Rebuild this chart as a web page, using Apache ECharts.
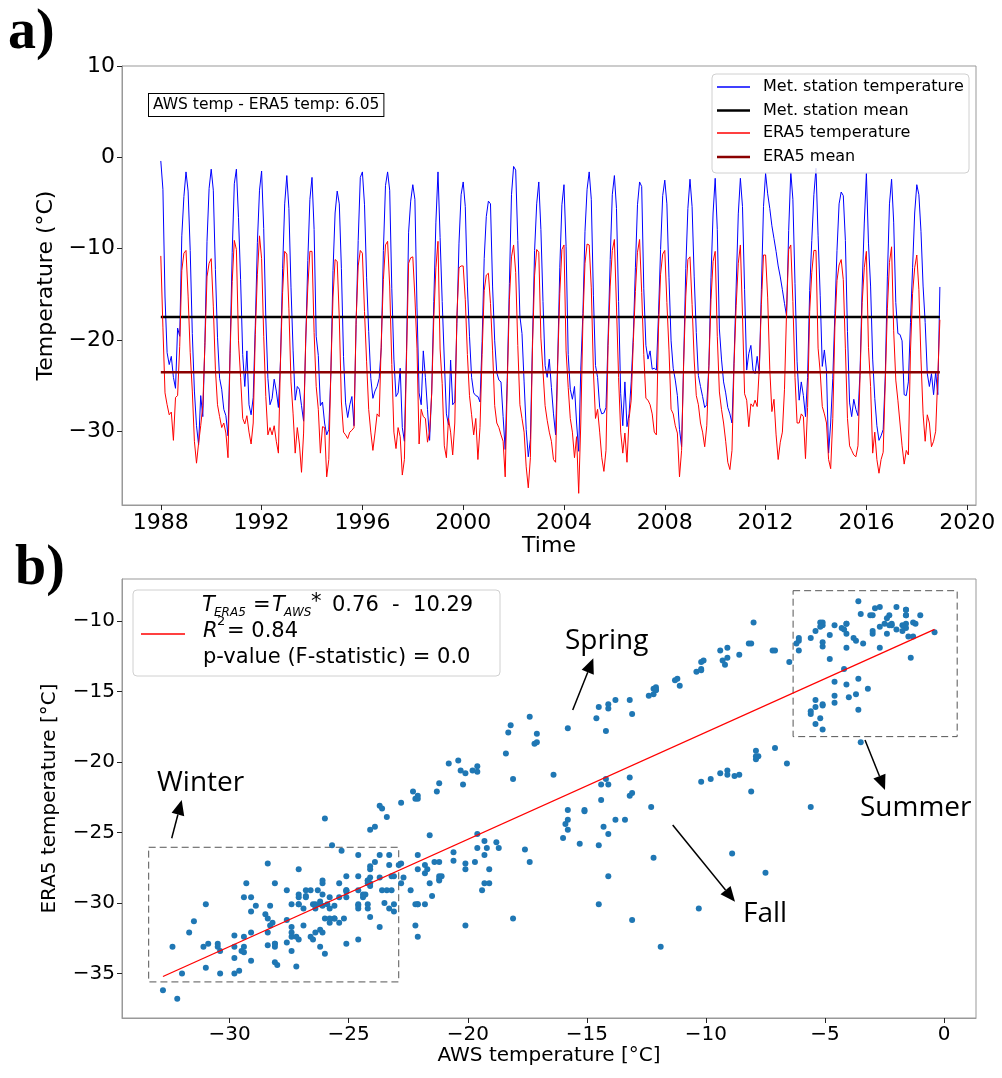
<!DOCTYPE html>
<html lang="en">
<head>
    <meta charset="UTF-8">
    <title>AWS vs ERA5 temperature</title>
    <style>
        html, body { margin: 0; padding: 0; background: #fff; }
        #main { width: 1002px; height: 1078px; }
    </style>
</head>
<body>
<div id="main"></div>
<script src="https://cdn.jsdelivr.net/npm/echarts@6/dist/echarts.min.js"></script>
<script>
    const myChart = echarts.init(document.getElementById('main'));

    // monthly means, Jan..Dec, one row per year, from 1988
    const startYear = 1988;
    const aws = [
        -0.4, -3.5, -15.3, -21.4, -22.7, -21.8, -24.1, -25.3, -18.7, -19.6, -8.6, -4.3,    // 1988
        -1.6, -3.7, -10.2, -19.3, -25.6, -29.4, -31.5, -26.1, -28.4, -20.3, -9.2, -3.4,    // 1989
        -1.3, -3.6, -12.3, -19.7, -24.2, -25.4, -27.6, -28.3, -30.5, -21.2, -10.4, -2.9,   // 1990
        -1.3, -6.6, -13.4, -21.6, -25.1, -21.2, -27.1, -28.2, -26.3, -18.4, -9.3, -3.6,    // 1991
        -1.5, -7.8, -17.6, -24.2, -27.1, -26.4, -24.3, -25.6, -27.4, -22.3, -12.2, -5.1,   // 1992
        -2.0, -5.6, -14.3, -21.2, -26.6, -25.1, -25.4, -27.2, -28.9, -20.4, -11.3, -4.6,   // 1993
        -2.2, -7.9, -19.6, -21.7, -27.2, -26.8, -29.1, -30.4, -29.8, -23.6, -12.4, -6.1,   // 1994
        -3.7, -5.1, -12.2, -21.8, -26.9, -28.5, -27.1, -26.2, -29.4, -18.3, -9.1, -2.2,    // 1995
        -1.6, -5.2, -13.2, -19.1, -24.2, -26.4, -25.6, -25.1, -24.2, -20.8, -10.2, -3.1,   // 1996
        -1.6, -3.6, -14.4, -22.1, -26.2, -25.8, -23.1, -29.6, -31.1, -21.3, -8.2, -4.8,    // 1997
        -3.0, -4.6, -16.4, -25.8, -27.1, -21.2, -24.1, -27.6, -31.0, -25.7, -15.8, -7.1,   // 1998
        -1.6, -8.8, -15.8, -22.2, -28.1, -29.3, -22.2, -27.1, -26.8, -18.2, -9.4, -4.1,    // 1999
        -2.7, -5.4, -14.1, -19.6, -24.1, -25.8, -26.1, -26.2, -26.8, -20.2, -11.1, -6.5,   // 2000
        -4.8, -5.1, -14.2, -20.1, -23.6, -24.4, -24.6, -28.4, -32.0, -24.1, -13.8, -4.1,   // 2001
        -1.0, -1.4, -9.1, -17.4, -19.3, -24.6, -29.8, -32.8, -30.9, -20.1, -10.2, -5.1,    // 2002
        -2.7, -7.9, -15.8, -22.8, -24.1, -22.1, -25.2, -28.1, -30.4, -22.2, -12.1, -5.2,   // 2003
        -3.0, -9.8, -21.6, -25.4, -26.5, -25.1, -29.1, -32.2, -23.2, -17.1, -8.1, -3.5,    // 2004
        -1.6, -4.6, -15.1, -22.8, -24.1, -27.4, -28.1, -28.0, -27.4, -19.8, -11.2, -4.1,   // 2005
        -2.0, -5.6, -15.8, -25.9, -29.4, -24.6, -29.5, -28.1, -24.6, -19.6, -12.1, -5.2,   // 2006
        -2.7, -3.2, -14.4, -20.6, -22.1, -21.2, -23.2, -23.1, -23.3, -17.2, -10.1, -4.2,   // 2007
        -2.5, -5.1, -13.2, -20.1, -23.1, -24.4, -26.1, -29.8, -31.7, -22.1, -12.2, -5.6,   // 2008
        -2.4, -5.4, -13.1, -19.2, -23.9, -25.1, -26.2, -27.4, -27.1, -22.8, -13.2, -6.1,   // 2009
        -2.3, -7.9, -18.8, -22.1, -24.6, -25.8, -27.4, -28.1, -29.1, -22.1, -14.1, -6.2,   // 2010
        -2.3, -5.4, -14.5, -23.3, -21.5, -20.6, -23.3, -23.7, -21.8, -23.7, -14.5, -5.4,   // 2011
        -1.75, -4.0, -5.6, -7.5, -8.9, -10.3, -11.9, -13.1, -14.5, -16.0, -17.4, -8.0,     // 2012
        -1.6, -4.6, -13.8, -22.4, -26.6, -24.6, -26.1, -28.4, -24.1, -14.6, -9.1, -4.1,    // 2013
        -1.2, -8.6, -15.1, -22.9, -21.1, -23.4, -32.4, -29.1, -24.2, -17.1, -10.2, -5.1,   // 2014
        -3.8, -4.2, -9.1, -19.1, -26.9, -28.4, -26.5, -27.6, -28.3, -23.4, -14.1, -7.2,    // 2015
        -1.75, -9.4, -14.1, -22.1, -26.4, -29.4, -31.0, -30.5, -29.8, -23.9, -13.1, -5.1,  // 2016
        -2.4, -7.1, -15.9, -19.3, -19.4, -20.1, -26.0, -26.1, -24.6, -18.1, -12.1, -6.1,   // 2017
        -3.0, -4.1, -8.1, -14.1, -18.1, -23.7, -25.1, -23.7, -26.0, -23.5, -26.0, -14.2    // 2018
    ];
    const era5 = [
        -10.8, -18.6, -25.8, -27.1, -28.2, -27.9, -31.0, -26.3, -26.1, -20.7, -12.4, -10.5,  // 1988
        -10.2, -15.2, -21.4, -25.6, -31.1, -33.5, -31.3, -29.4, -27.2, -20.6, -13.1, -11.6,  // 1989
        -11.1, -16.3, -23.2, -27.1, -28.4, -29.6, -29.1, -30.2, -32.9, -21.5, -13.6, -9.1,   // 1990
        -10.1, -20.1, -24.1, -28.6, -29.2, -28.3, -30.1, -31.4, -29.1, -19.4, -12.8, -8.6,   // 1991
        -11.1, -19.6, -26.2, -30.4, -29.6, -30.4, -29.4, -31.1, -32.4, -22.1, -14.8, -10.3,  // 1992
        -10.6, -16.6, -24.6, -28.1, -32.4, -29.6, -31.4, -34.5, -30.2, -19.9, -14.2, -10.3,  // 1993
        -10.3, -19.2, -25.1, -27.6, -32.4, -29.5, -29.6, -35.0, -33.1, -23.3, -15.3, -11.2,  // 1994
        -11.4, -17.7, -26.8, -30.1, -30.4, -30.8, -30.1, -29.9, -29.6, -17.9, -11.9, -10.2,  // 1995
        -10.5, -16.9, -22.4, -27.6, -30.1, -32.1, -30.2, -28.1, -28.4, -20.1, -13.4, -9.6,   // 1996
        -9.2, -14.1, -22.7, -30.1, -31.9, -29.6, -30.6, -34.8, -33.1, -22.1, -11.6, -11.0,   // 1997
        -10.9, -15.3, -20.9, -31.4, -27.6, -28.4, -28.6, -31.2, -30.1, -25.9, -17.6, -12.1,  // 1998
        -9.2, -21.0, -24.8, -31.6, -32.9, -28.6, -30.1, -32.6, -29.1, -17.4, -12.1, -11.9,   // 1999
        -11.9, -15.6, -21.6, -26.1, -28.2, -30.4, -28.6, -33.1, -29.6, -21.6, -14.6, -12.9,  // 2000
        -12.7, -16.0, -21.2, -27.2, -29.1, -29.6, -30.4, -31.1, -35.0, -24.8, -15.6, -10.9,  // 2001
        -9.6, -12.6, -20.6, -27.1, -28.6, -30.1, -33.9, -36.2, -32.9, -20.8, -12.9, -10.1,   // 2002
        -10.4, -19.8, -23.4, -27.2, -28.8, -30.1, -31.1, -33.1, -33.4, -22.6, -14.9, -10.1,  // 2003
        -9.6, -21.2, -25.2, -28.6, -30.1, -32.9, -30.6, -36.8, -29.1, -18.0, -11.6, -9.5,    // 2004
        -9.6, -14.3, -23.4, -28.6, -27.6, -30.1, -32.9, -34.4, -32.1, -20.6, -14.1, -10.2,   // 2005
        -9.0, -16.4, -24.1, -30.1, -32.4, -30.2, -33.4, -28.6, -26.6, -20.3, -14.7, -10.4,   // 2006
        -9.0, -14.8, -21.6, -26.4, -26.6, -27.1, -28.1, -30.1, -30.4, -18.7, -12.8, -10.6,   // 2007
        -10.2, -15.9, -21.1, -27.6, -28.1, -29.4, -30.2, -35.0, -32.1, -22.4, -15.2, -11.2,  // 2008
        -10.9, -16.1, -22.2, -26.1, -27.1, -29.1, -30.1, -31.7, -29.4, -22.9, -15.6, -11.4,  // 2009
        -10.3, -19.6, -25.7, -27.6, -29.1, -31.1, -33.4, -34.2, -32.1, -22.6, -16.2, -11.6,  // 2010
        -9.6, -17.3, -25.9, -26.6, -29.5, -27.0, -27.3, -26.6, -27.3, -23.1, -16.1, -10.7,   // 2011
        -10.7, -15.4, -23.2, -27.85, -26.5, -30.4, -33.1, -31.2, -30.1, -25.4, -16.8, -10.1, // 2012
        -9.6, -15.8, -24.1, -29.1, -29.1, -28.1, -28.4, -33.0, -27.4, -16.9, -12.6, -10.2,   // 2013
        -10.2, -20.9, -23.5, -27.3, -28.1, -29.1, -33.1, -34.1, -28.6, -18.6, -13.5, -11.8,  // 2014
        -11.2, -13.4, -20.9, -28.6, -31.6, -32.1, -32.6, -32.8, -31.6, -23.9, -15.9, -12.1,  // 2015
        -10.3, -20.8, -25.1, -32.4, -30.1, -33.1, -34.6, -33.1, -32.3, -24.6, -16.6, -11.5,  // 2016
        -9.8, -19.0, -24.4, -26.6, -29.1, -31.6, -33.6, -32.1, -32.6, -21.2, -14.9, -12.1,   // 2017
        -10.7, -14.5, -22.1, -28.1, -31.1, -28.2, -29.1, -31.7, -31.1, -30.0, -24.0, -17.8   // 2018
    ];
    const awsMean = -17.5;
    const era5Mean = -23.55;
    const fitSlope = 0.76;
    const fitIntercept = -10.29;

    // tick labels
    const yearTicks = [1988, 1992, 1996, 2000, 2004, 2008, 2012, 2016, 2020];
    const tempTicks = [-30, -20, -10, 0, 10];
    const awsTicks = [-30, -25, -20, -15, -10, -5, 0];
    const era5Ticks = [-35, -30, -25, -20, -15, -10];

    // dashed season boxes, [AWS, ERA5] corners
    const winterBox = [[-33.4, -26.05], [-22.9, -35.6]];
    const summerBox = [[-6.34, -7.85], [0.55, -18.2]];

    // build series data
    const months = aws.map((v, i) => startYear + i / 12);
    const awsLine = aws.map((v, i) => [months[i], v]);
    const era5Line = era5.map((v, i) => [months[i], v]);
    const tFirst = months[0], tLast = months[months.length - 1];
    const pairs = aws.map((v, i) => [v, era5[i]]);
    const awsMin = Math.min(...aws), awsMax = Math.max(...aws);
    const fitLine = [[awsMin, awsMin * fitSlope + fitIntercept], [awsMax, awsMax * fitSlope + fitIntercept]];

    const FONT = 'DejaVu Sans';

    function arrow(x1, y1, x2, y2) {
        const dx = x2 - x1, dy = y2 - y1, L = Math.hypot(dx, dy);
        const ux = dx / L, uy = dy / L, hl = 15, hw = 6.5;
        const bx = x2 - ux * hl, by = y2 - uy * hl;
        return [
            {type: 'line', z: 50, shape: {x1, y1, x2: bx, y2: by}, style: {stroke: '#000', lineWidth: 1.5}},
            {type: 'polygon', z: 50, shape: {points: [[x2, y2], [bx - uy * hw, by + ux * hw], [bx + uy * hw, by - ux * hw]]},
                style: {fill: '#000'}}
        ];
    }
    function label(text, x, y, size, font) {
        return {type: 'text', z: 60, x, y,
            style: {text, font: font || (size + 'px ' + FONT), fill: '#000', textVerticalAlign: 'middle'}};
    }

    function axisCommon(ticks, size) {
        return {
            axisLine: {show: true, onZero: false, lineStyle: {color: '#999', width: 1}},
            axisTick: {show: true, customValues: ticks, length: 5, lineStyle: {color: '#222'}},
            axisLabel: {customValues: ticks, fontSize: size, fontFamily: FONT, color: '#000', margin: 7,
                formatter: v => String(v).replace('-', '\u2212')},
            splitLine: {show: false},
            nameLocation: 'middle',
            nameTextStyle: {fontSize: size, fontFamily: FONT, color: '#000'}
        };
    }

    // legend of panel a
    const legendA = [
        {type: 'rect', z: 55, shape: {x: 712, y: 74, width: 257, height: 99, r: 4},
            style: {fill: 'rgba(255,255,255,0.85)', stroke: '#d0d0d0', lineWidth: 1}}
    ];
    [['Met. station temperature', '#0000ff', 1.5, 87],
     ['Met. station mean', '#000000', 2.5, 110.5],
     ['ERA5 temperature', '#ff0000', 1.5, 133],
     ['ERA5 mean', '#8b0000', 2.5, 157]].forEach(([t, c, w, y]) => {
        legendA.push({type: 'line', z: 56, shape: {x1: 717, y1: y, x2: 750, y2: y}, style: {stroke: c, lineWidth: w}});
        legendA.push(label(t, 763, y, 16));
    });

    // legend of panel b
    const italic = s => 'italic ' + s + 'px ' + FONT;
    const legendB = [
        {type: 'rect', z: 55, shape: {x: 133, y: 590, width: 367, height: 86, r: 4},
            style: {fill: 'rgba(255,255,255,0.85)', stroke: '#d0d0d0', lineWidth: 1}},
        {type: 'line', z: 56, shape: {x1: 141, y1: 634, x2: 185, y2: 634}, style: {stroke: '#ff0000', lineWidth: 1.5}},
        label('T', 202, 606, 21, italic(21)),
        label('ERA5', 214, 613, 12, italic(12)),
        label('=', 253, 606, 21),
        label('T', 272, 606, 21, italic(21)),
        label('AWS', 284, 613, 12, italic(12)),
        label('*', 311, 603, 21),
        label('0.76  -  10.29', 332, 606, 21),
        label('R', 203, 632, 21, italic(21)),
        label('2', 217, 622, 13),
        label('= 0.84', 227, 632, 21),
        label('p-value (F-statistic) = 0.0', 203, 658, 21)
    ];

    const option = {
        animation: false,
        backgroundColor: '#fff',
        grid: [
            {left: 122, top: 66, width: 854, height: 439, show: true, borderColor: '#999', borderWidth: 1},
            {left: 122, top: 579, width: 854, height: 439, show: true, borderColor: '#999', borderWidth: 1}
        ],
        xAxis: [
            Object.assign(axisCommon(yearTicks, 22), {
                type: 'value', gridIndex: 0, min: 1986.46, max: 2020.35,
                name: 'Time', nameGap: 30
            }),
            Object.assign(axisCommon(awsTicks, 20), {
                type: 'value', gridIndex: 1, min: -34.52, max: 1.34,
                name: 'AWS temperature [°C]', nameGap: 28
            })
        ],
        yAxis: [
            Object.assign(axisCommon(tempTicks, 22), {
                type: 'value', gridIndex: 0, min: -38.08, max: 10,
                name: 'Temperature (°C)', nameGap: 62
            }),
            Object.assign(axisCommon(era5Ticks, 20), {
                type: 'value', gridIndex: 1, min: -38.16, max: -7.02,
                name: 'ERA5 temperature [°C]', nameGap: 62
            })
        ],
        series: [
            {name: 'Met. station temperature', type: 'line', xAxisIndex: 0, yAxisIndex: 0, data: awsLine,
                showSymbol: false, lineStyle: {color: '#0000ff', width: 1}, z: 2},
            {name: 'Met. station mean', type: 'line', xAxisIndex: 0, yAxisIndex: 0,
                data: [[tFirst, awsMean], [tLast, awsMean]],
                showSymbol: false, lineStyle: {color: '#000', width: 2.5}, z: 3},
            {name: 'ERA5 temperature', type: 'line', xAxisIndex: 0, yAxisIndex: 0, data: era5Line,
                showSymbol: false, lineStyle: {color: '#ff0000', width: 1}, z: 4},
            {name: 'ERA5 mean', type: 'line', xAxisIndex: 0, yAxisIndex: 0,
                data: [[tFirst, era5Mean], [tLast, era5Mean]],
                showSymbol: false, lineStyle: {color: '#8b0000', width: 2.5}, z: 5},
            {name: 'monthly pairs', type: 'scatter', xAxisIndex: 1, yAxisIndex: 1, data: pairs,
                symbolSize: 6, itemStyle: {color: '#1f77b4', opacity: 1}, z: 2,
                markArea: {
                    silent: true, label: {show: false},
                    itemStyle: {color: 'rgba(0,0,0,0)', borderColor: '#555', borderWidth: 1, borderType: [7, 4]},
                    data: [
                        [{coord: winterBox[0]}, {coord: winterBox[1]}],
                        [{coord: summerBox[0]}, {coord: summerBox[1]}]
                    ]
                }},
            {name: 'fit', type: 'line', xAxisIndex: 1, yAxisIndex: 1, data: fitLine,
                showSymbol: false, lineStyle: {color: '#ff0000', width: 1.3}, z: 4}
        ],
        graphic: [
            label('a)', 8, 34, 56, 'bold 56px "Liberation Serif"'),
            label('b)', 15, 570, 56, 'bold 56px "Liberation Serif"'),
            {type: 'text', z: 60, x: 149, y: 94,
                style: {text: 'AWS temp - ERA5 temp: 6.05', font: '15.5px ' + FONT, fill: '#000',
                    backgroundColor: '#fff', borderColor: '#000', borderWidth: 1, padding: [3, 4]}},
            ...legendA,
            ...legendB,
            label('Spring', 565, 641, 28, '28px "Open Sans"'),
            label('Winter', 157, 783, 28, '28px "Open Sans"'),
            label('Summer', 860, 808, 28, '28px "Open Sans"'),
            label('Fall', 743, 914, 28, '28px "Open Sans"'),
            ...arrow(572.7, 710, 593.3, 658.3),
            ...arrow(865, 740, 885, 790),
            ...arrow(672.7, 825, 735, 901.7),
            ...arrow(171.7, 838.3, 181.7, 800)
        ]
    };

    myChart.setOption(option);
</script>
</body>
</html>
